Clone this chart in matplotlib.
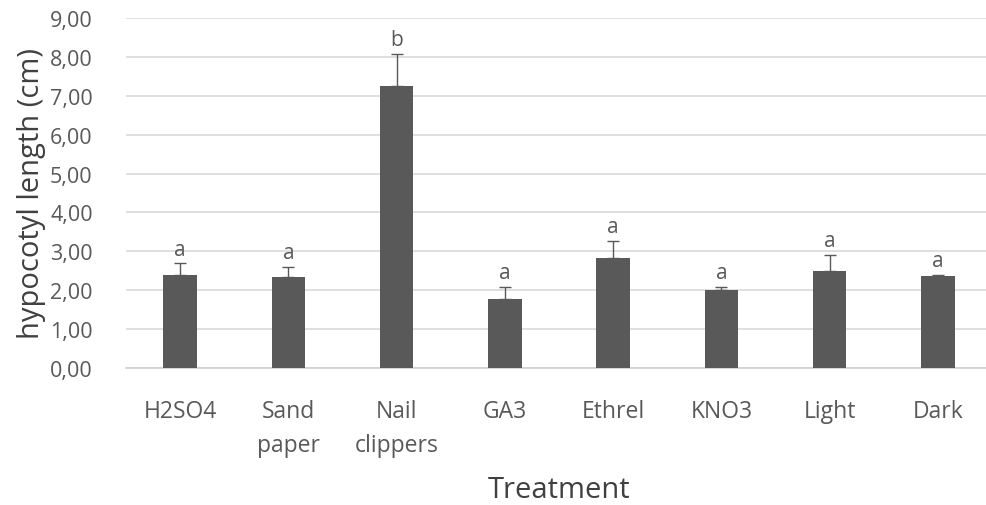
import numpy as np
import matplotlib.pyplot as plt

# hypocotyl length by seed treatment, mean + upper error
treatments = ["H2SO4", "Sand\npaper", "Nail\nclippers", "GA3", "Ethrel", "KNO3", "Light", "Dark"]
means = [2.40, 2.35, 7.24, 1.78, 2.82, 2.00, 2.50, 2.36]
errors = [0.29, 0.25, 0.83, 0.31, 0.44, 0.08, 0.40, 0.04]
letters = ["a", "a", "b", "a", "a", "a", "a", "a"]

bar_col = "#595959"
txt_col = "#595959"

plt.rcParams['font.family'] = ['Open Sans', 'DejaVu Sans']

fig = plt.figure(figsize=(9.87, 5.06), dpi=100)
ax = fig.add_axes([126/987, 137/506, 866/987, 350/506])

x = np.arange(len(treatments))
lower = np.zeros(len(means))
ax.bar(x, means, width=0.31, color=bar_col, zorder=3)
ax.errorbar(x, means, yerr=[lower, errors], fmt='none', ecolor=bar_col,
            elinewidth=1.0, capsize=4.5, capthick=1.0, zorder=4)

for xi, m, e, l in zip(x, means, errors, letters):
    ax.text(xi, m + e + 0.1, l, ha='center', va='bottom', fontsize=15, color=txt_col, zorder=5)

ax.set_xlim(-0.5, len(treatments) - 0.5)
ax.set_ylim(0, 9)
ax.set_yticks(np.arange(0, 10, 1))
ax.set_yticklabels([f"{v:.2f}".replace(".", ",") for v in range(10)])
ax.set_xticks(x)
ax.set_xticklabels(treatments, linespacing=1.6)

ax.grid(axis='y', color='#d9d9d9', linewidth=1.2, zorder=0)
ax.set_axisbelow(True)
for side in ['top', 'right', 'left']:
    ax.spines[side].set_visible(False)
ax.spines['bottom'].set_color('#d0d0d0')
ax.spines['bottom'].set_linewidth(1.2)

ax.tick_params(axis='both', length=0, colors=txt_col)
ax.tick_params(axis='y', labelsize=15.5, pad=24)
ax.tick_params(axis='x', labelsize=16.5, pad=22)

ax.set_ylabel("hypocotyl length (cm)", fontsize=21, color='#404040', labelpad=3)
ax.set_xlabel("Treatment", fontsize=21, color='#404040', labelpad=13)

fig.savefig("out.png", dpi=100)
